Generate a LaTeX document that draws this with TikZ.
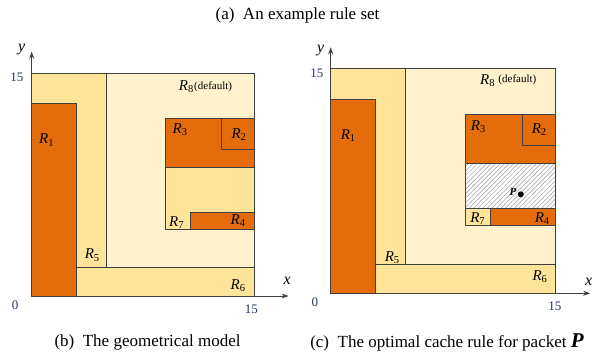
\documentclass[tikz,border=0pt]{standalone}
\usepackage{fontspec}
\setmainfont{Liberation Serif}
\usepackage{tikz}
\usetikzlibrary{arrows.meta, patterns.meta}
\definecolor{rdarkc}{HTML}{E46C0A}
\definecolor{rmidc}{HTML}{FFE599}
\definecolor{rlightc}{HTML}{FFF2CC}
\definecolor{redgec}{HTML}{404040}
\definecolor{rnumc}{HTML}{203864}
\newcommand{\Rn}[1]{\textit{R}\textsubscript{#1}}
\tikzset{
  rdark/.style={draw=redgec, line width=0.8pt, fill=rdarkc},
  rmid/.style={draw=redgec, line width=0.8pt, fill=rmidc},
  rlight/.style={draw=redgec, line width=0.8pt, fill=rlightc},
  rhatch/.style={draw=redgec, line width=0.8pt, pattern={Lines[angle=45, distance=3.2pt, line width=0.5pt]}, pattern color=gray!75},
  raxis/.style={-{Stealth[length=7pt, width=5pt]}, line width=0.8pt, redgec},
  rlbl/.style={font=\fontsize{15}{15}\selectfont, inner sep=0pt},
  rdef/.style={font=\fontsize{11}{11}\selectfont, inner sep=0pt},
  rnum/.style={font=\fontsize{13}{13}\selectfont, text=rnumc, inner sep=0pt},
  raxlbl/.style={font=\fontsize{16}{16}\selectfont\itshape, inner sep=0pt},
  rcap/.style={font=\fontsize{17}{17}\selectfont, inner sep=0pt},
}
\begin{document}
\begin{tikzpicture}[x=1pt, y=1pt]
  \useasboundingbox (0,0) rectangle (604,356);
  % captions
  \node[rcap] (capa) at (297.5,341) {(a)\ \ An example rule set};
  \node[rcap] (capb) at (147.5,14) {(b)\ \ The geometrical model};
  \node[rcap] (capc) at (447,14) {(c)\ \ The optimal cache rule for packet \textbf{\textit{\fontsize{21}{21}\selectfont P}}};
  % (b) the geometrical model
  \begin{scope}[shift={(31.7pt,60pt)}, x=14.85pt, y=14.85pt]
    \draw[rlight] (0,0) rectangle (15,15);
    \draw[rmid] (0,0) rectangle (5,15);
    \draw[rmid] (3,0) rectangle (15,1.9);
    \draw[rdark] (0,0) rectangle (3,12.95);
    \draw[rmid] (9,4.5) rectangle (15,8.67);
    \draw[rdark] (9,8.67) rectangle (15,11.95);
    \draw[rdark] (12.8,9.84) rectangle (15,11.95);
    \draw[rdark] (10.67,4.5) rectangle (15,5.6);
    \coordinate (bo) at (0,0);
    \coordinate (bx) at (17.3,0);
    \coordinate (by) at (0,16.45);
    \draw[raxis] (bo) -- (bx);
    \draw[raxis] (bo) -- (by);
    \node[raxlbl] (bxl) at (17.2,1.03) {x};
    \node[raxlbl] (byl) at (-0.68,16.6) {y};
    \node[rnum] (b15y) at (-1.0,14.7) {15};
    \node[rnum] (b0) at (-1.12,-0.6) {0};
    \node[rnum] (b15x) at (14.8,-0.9) {15};
    \node[rlbl] (br1) at (1.0,10.5) {\Rn{1}};
    \node[rlbl] (br2) at (13.96,10.85) {\Rn{2}};
    \node[rlbl] (br3) at (10.0,11.2) {\Rn{3}};
    \node[rlbl] (br4) at (13.9,5.05) {\Rn{4}};
    \node[rlbl] (br5) at (4.08,2.75) {\Rn{5}};
    \node[rlbl] (br6) at (13.9,0.67) {\Rn{6}};
    \node[rlbl] (br7) at (9.76,4.94) {\Rn{7}};
    \node[rlbl, anchor=west] (br8) at (9.9,14.07) {\Rn{8}};
    \node[rdef, anchor=west] (bdef) at (br8.east) {(default)};
  \end{scope}
  % (c) the optimal cache rule
  \begin{scope}[shift={(330.7pt,62.7pt)}, x=15pt, y=15pt]
    \draw[rlight] (0,0) rectangle (15,15);
    \draw[rmid] (0,0) rectangle (5,15);
    \draw[rmid] (3,0) rectangle (15,1.9);
    \draw[rdark] (0,0) rectangle (3,12.95);
    \fill[white] (9,5.67) rectangle (15,8.67);
    \draw[rhatch] (9,5.67) rectangle (15,8.67);
    \draw[rmid] (9,4.5) rectangle (10.67,5.67);
    \draw[rdark] (9,8.67) rectangle (15,11.95);
    \draw[rdark] (12.8,9.84) rectangle (15,11.95);
    \draw[rdark] (10.67,4.5) rectangle (15,5.67);
    \coordinate (co) at (0,0);
    \coordinate (cx) at (17.3,0);
    \coordinate (cy) at (0,16.4);
    \draw[raxis] (co) -- (cx);
    \draw[raxis] (co) -- (cy);
    \node[raxlbl] (cxl) at (17.2,0.77) {x};
    \node[raxlbl] (cyl) at (-0.67,16.2) {y};
    \node[rnum] (c15y) at (-0.93,14.67) {15};
    \node[rnum] (c0) at (-1.05,-0.62) {0};
    \node[rnum] (c15x) at (14.95,-0.85) {15};
    \node[rlbl] (cr1) at (1.17,10.49) {\Rn{1}};
    \node[rlbl] (cr2) at (13.9,10.9) {\Rn{2}};
    \node[rlbl] (cr3) at (9.84,11.1) {\Rn{3}};
    \node[rlbl] (cr4) at (14.1,5.0) {\Rn{4}};
    \node[rlbl] (cr5) at (4.1,2.4) {\Rn{5}};
    \node[rlbl] (cr6) at (13.95,1.1) {\Rn{6}};
    \node[rlbl] (cr7) at (9.8,5.0) {\Rn{7}};
    \node[rlbl, anchor=west] (cr8) at (9.95,14.2) {\Rn{8}};
    \node[rdef, anchor=west] (cdef) at ([xshift=3pt]cr8.east) {(default)};
    \node[circle, fill=black, inner sep=0pt, minimum size=6pt] (pkt) at (12.67,6.6) {};
    \node[font=\fontsize{11}{11}\selectfont\bfseries\itshape, inner sep=0pt, anchor=east] (pktl) at ([xshift=-1pt, yshift=2pt]pkt.west) {P};
  \end{scope}
\end{tikzpicture}
\end{document}
